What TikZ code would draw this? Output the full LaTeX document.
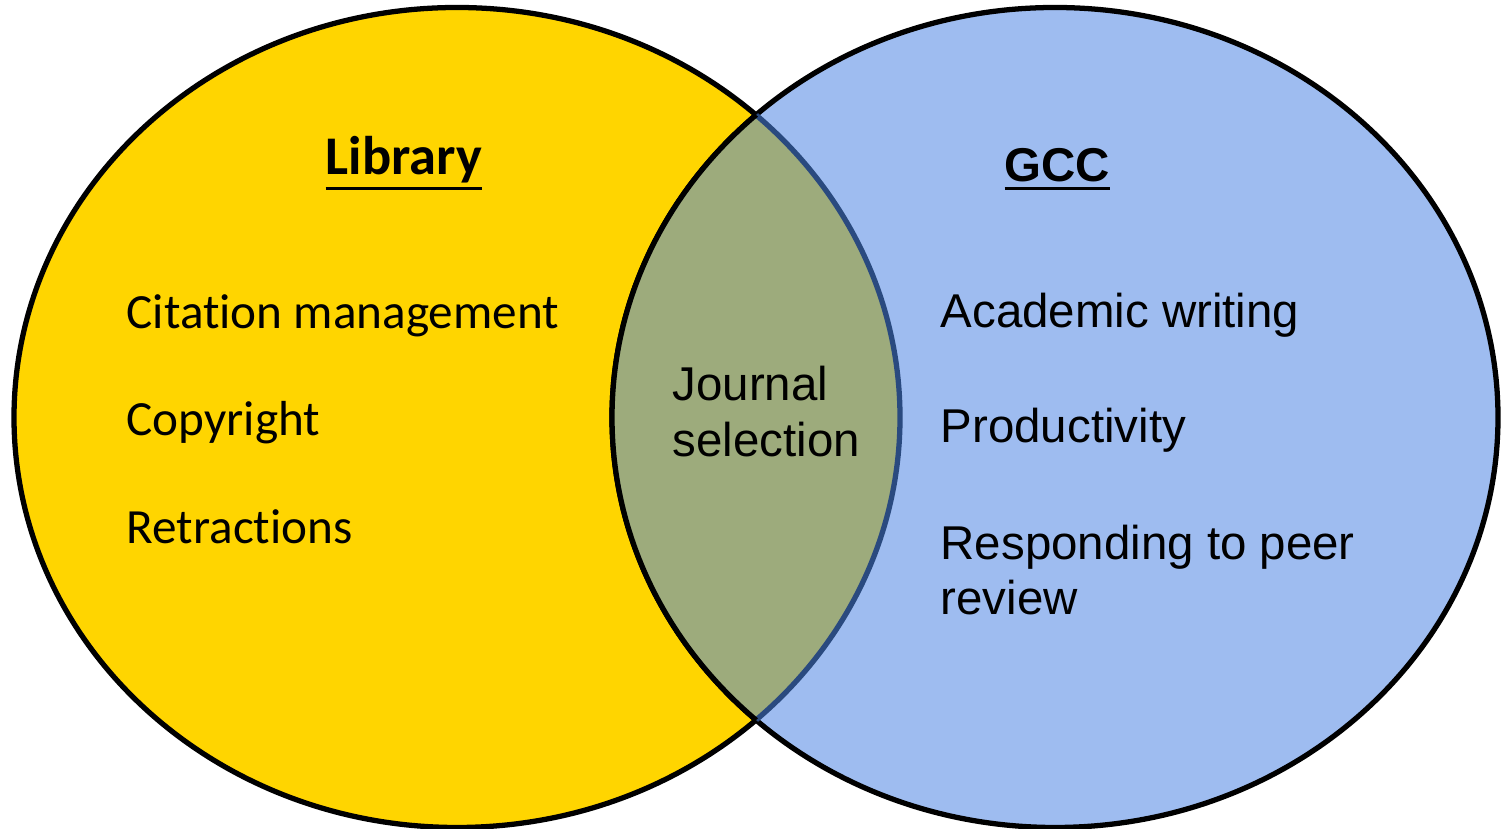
\documentclass[tikz,border=0pt]{standalone}
\usepackage{fontspec}
\setmainfont[RawFeature={-liga;-clig;-calt;-dlig}]{Carlito}
\newfontfamily\arialfont{Liberation Sans}
\usepackage{tikz}
\usetikzlibrary{positioning}
\definecolor{libyellow}{HTML}{FFD500}
\definecolor{gccblue}{HTML}{9EBCF0}
\definecolor{overlapgreen}{HTML}{9DAB7C}
\definecolor{edgeblue}{HTML}{2A4A7F}
\newcommand{\ulined}[2]{\vtop{\hbox{#2}\kern#1\hrule height 0.9pt}}

\begin{document}
\begin{tikzpicture}[
    libtext/.style={anchor=base west, inner sep=0pt, font=\fontsize{14}{17}\selectfont},
    gcctext/.style={anchor=base west, inner sep=0pt, align=left, font=\arialfont\fontsize{13.5}{15.8}\selectfont}]
        \useasboundingbox (0, 0) rectangle (15.01, 8.29);
        % the two sets
        \filldraw [fill=libyellow, draw=black, line width=1.5pt] (4.57, 4.115) ellipse [x radius=4.43, y radius=4.10];
        \filldraw [fill=gccblue, draw=black, line width=1.5pt] (10.55, 4.115) ellipse [x radius=4.43, y radius=4.10];
        % overlap
        \begin{scope}
            \clip (10.55, 4.115) ellipse [x radius=4.43, y radius=4.10];
            \filldraw [fill=overlapgreen, draw=edgeblue, line width=1.5pt] (4.57, 4.115) ellipse [x radius=4.43, y radius=4.10];
        \end{scope}
        \begin{scope}
            \clip (4.57, 4.115) ellipse [x radius=4.43, y radius=4.10];
            \draw [black, line width=1.5pt] (10.55, 4.115) ellipse [x radius=4.43, y radius=4.10];
        \end{scope}

        \node [libtext, font=\bfseries\fontsize{15.5}{18}\selectfont] (library) at (3.25, 6.54) {\ulined{1pt}{Library}};
        \node [libtext] (citation) at (1.26, 5.00) {Citation management};
        \node [libtext] (copyright) at (1.26, 3.93) {Copyright};
        \node [libtext] (retractions) at (1.26, 2.85) {Retractions};

        \node [gcctext, font=\arialfont\fontsize{13.5}{16.2}\selectfont] (journal) at (6.72, 3.72) {Journal\\selection};

        \node [gcctext, font=\arialfont\bfseries\fontsize{13.5}{16}\selectfont] (gcc) at (10.04, 6.47) {\ulined{1.3pt}{GCC}};
        \node [gcctext] (writing) at (9.40, 5.01) {Academic writing};
        \node [gcctext] (productivity) at (9.40, 3.86) {Productivity};
        \node [gcctext] (review) at (9.40, 2.14) {Responding to peer\\review};
    \end{tikzpicture}
\end{document}
